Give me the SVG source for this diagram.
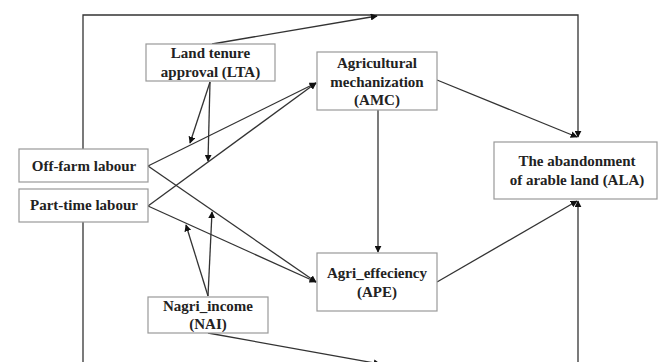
<svg xmlns="http://www.w3.org/2000/svg" width="660" height="362" viewBox="0 0 660 362">
<style>
.box{fill:#fff;stroke:#999;stroke-width:1.2}
.t{font-family:"Liberation Serif","Times New Roman",serif;font-weight:bold;font-size:15px;fill:#222;text-anchor:middle}
.c{fill:none;stroke:#333;stroke-width:1.3}
</style>
<defs>
<marker id="a" viewBox="0 0 10 10" refX="9" refY="5" markerWidth="7" markerHeight="7" orient="auto" markerUnits="userSpaceOnUse">
<path d="M0,0 L10,5 L0,10 z" fill="#111"/>
</marker>
</defs>
<rect width="660" height="362" fill="#fff"/>
<g id="connectors">
<path class="c" d="M83,149 V15 H578 V137" marker-end="url(#a)"/>
<path class="c" d="M212,44 L377,16" marker-end="url(#a)"/>
<path class="c" d="M83,222 V362"/>
<path class="c" d="M578,362 V201" marker-end="url(#a)"/>
<path class="c" d="M148,166 L316,83" marker-end="url(#a)"/>
<path class="c" d="M148,206 L316,83" marker-end="url(#a)"/>
<path class="c" d="M148,166 L316,282" marker-end="url(#a)"/>
<path class="c" d="M148,206 L316,282" marker-end="url(#a)"/>
<path class="c" d="M210,82 L190,143" marker-end="url(#a)"/>
<path class="c" d="M210,82 L208,161" marker-end="url(#a)"/>
<path class="c" d="M208,296 L186,225" marker-end="url(#a)"/>
<path class="c" d="M208,296 L212,212" marker-end="url(#a)"/>
<path class="c" d="M208,333 L380,364" marker-end="url(#a)"/>
<path class="c" d="M378,110 V252" marker-end="url(#a)"/>
<path class="c" d="M437,80 L577,137" marker-end="url(#a)"/>
<path class="c" d="M437,282 L577,201" marker-end="url(#a)"/>
</g>
<g id="LTA"><rect class="box" x="146" y="44" width="129" height="37"/><text class="t" x="210.5" y="58">Land tenure</text><text class="t" x="210.5" y="77">approval (LTA)</text></g>
<g id="AMC"><rect class="box" x="317" y="52" width="120" height="58"/><text class="t" x="377" y="68">Agricultural</text><text class="t" x="377" y="87">mechanization</text><text class="t" x="377" y="105">(AMC)</text></g>
<g id="ALA"><rect class="box" x="494" y="142" width="163" height="57"/><text class="t" x="577" y="166">The abandonment</text><text class="t" x="577" y="185">of arable land (ALA)</text></g>
<g id="OFL"><rect class="box" x="19" y="149" width="129" height="33"/><text class="t" x="84" y="171">Off-farm labour</text></g>
<g id="PTL"><rect class="box" x="19" y="189" width="129" height="33"/><text class="t" x="84" y="210">Part-time labour</text></g>
<g id="APE"><rect class="box" x="317" y="253" width="120" height="58"/><text class="t" x="377" y="278">Agri_effeciency</text><text class="t" x="377" y="297">(APE)</text></g>
<g id="NAI"><rect class="box" x="148" y="297" width="120" height="36"/><text class="t" x="208" y="311">Nagri_income</text><text class="t" x="208" y="329">(NAI)</text></g>
</svg>
